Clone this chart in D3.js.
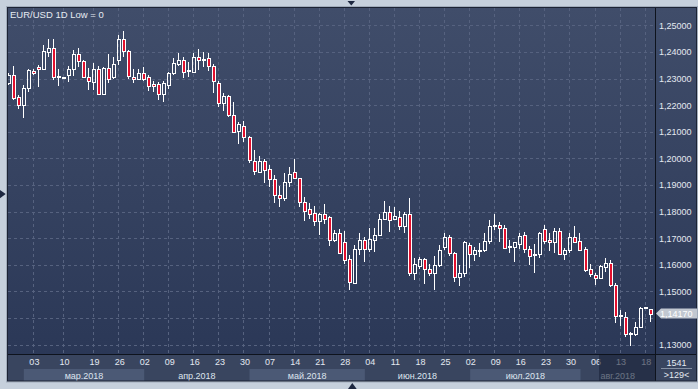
<!DOCTYPE html>
<html>
<head>
<meta charset="utf-8">
<script src="https://cdnjs.cloudflare.com/ajax/libs/d3/7.8.5/d3.min.js"></script>
<style>
body{margin:0;background:#c6d0dc;overflow:hidden}
text{font-family:"Liberation Sans",Arial,sans-serif}
</style>
</head>
<body>
<div id="chartDiv"></div>
<script>
//---EUR/USD daily bars---
var Opens=[1.2284,1.2313,1.2229,1.2199,1.2263,1.2329,1.2344,1.2337,1.2401,1.2413,
1.2309,1.2305,1.2312,1.2335,1.2392,1.2367,1.2304,1.2287,1.2335,1.2241,
1.2340,1.2304,1.2370,1.2447,1.2402,1.2307,1.2298,1.2320,1.2304,1.2278,
1.2278,1.2241,1.2274,1.2320,1.2354,1.2370,1.2328,1.2326,1.2380,1.2370,
1.2376,1.2346,1.2283,1.2207,1.2234,1.2162,1.2104,1.2121,1.2079,1.1991,
1.1950,1.1989,1.1959,1.1921,1.1862,1.1850,1.1912,1.1948,1.1925,1.1838,
1.1809,1.1793,1.1765,1.1790,1.1780,1.1693,1.1718,1.1684,1.1621,1.1532,
1.1661,1.1693,1.1658,1.1695,1.1714,1.1772,1.1797,1.1771,1.1780,1.1745,
1.1790,1.1568,1.1595,1.1621,1.1586,1.1571,1.1601,1.1668,1.1703,1.1646,
1.1553,1.1568,1.1673,1.1639,1.1653,1.1655,1.1689,1.1747,1.1749,1.1740,
1.1670,1.1668,1.1680,1.1711,1.1658,1.1639,1.1639,1.1734,1.1693,1.1684,
1.1727,1.1639,1.1655,1.1703,1.1689,1.1658,1.1583,1.1561,1.1549,1.1592,
1.1607,1.1526,1.1409,1.1405,1.1342,1.1342,1.1367,1.1441,1.1436]
var Highs=[1.2321,1.2347,1.2238,1.2276,1.2335,1.2335,1.2351,1.2426,1.2448,1.2448,
1.2335,1.2306,1.2347,1.2407,1.2413,1.2369,1.2338,1.2357,1.2347,1.2344,
1.2391,1.2382,1.2464,1.2479,1.2407,1.2335,1.2335,1.2344,1.2313,1.2291,
1.2288,1.2291,1.2326,1.2378,1.2395,1.2382,1.2363,1.2395,1.2412,1.2401,
1.2396,1.2354,1.2289,1.2244,1.2238,1.2212,1.2137,1.2140,1.2084,1.2031,
1.2009,1.1996,1.1977,1.1937,1.1896,1.1944,1.1968,1.1997,1.1928,1.1855,
1.1832,1.1821,1.1795,1.1828,1.1783,1.1730,1.1733,1.1728,1.1636,1.1674,
1.1720,1.1705,1.1740,1.1737,1.1790,1.1839,1.1822,1.1818,1.1803,1.1797,
1.1850,1.1624,1.1630,1.1624,1.1603,1.1633,1.1674,1.1718,1.1711,1.1649,
1.1598,1.1690,1.1683,1.1668,1.1683,1.1718,1.1768,1.1790,1.1761,1.1749,
1.1693,1.1686,1.1720,1.1724,1.1670,1.1677,1.1724,1.1749,1.1718,1.1740,
1.1739,1.1665,1.1718,1.1745,1.1718,1.1668,1.1605,1.1568,1.1598,1.1624,
1.1618,1.1530,1.1430,1.1423,1.1349,1.1387,1.1440,1.1442,1.1436]
var Lows=[1.2276,1.2219,1.2184,1.2153,1.2250,1.2313,1.2269,1.2332,1.2382,1.2294,
1.2273,1.2303,1.2288,1.2309,1.2344,1.2301,1.2257,1.2257,1.2238,1.2238,
1.2282,1.2299,1.2351,1.2382,1.2297,1.2282,1.2294,1.2292,1.2253,1.2250,
1.2219,1.2213,1.2259,1.2312,1.2347,1.2301,1.2304,1.2323,1.2332,1.2342,
1.2330,1.2247,1.2194,1.2179,1.2156,1.2094,1.2053,1.2062,1.1981,1.1937,
1.1946,1.1908,1.1893,1.1833,1.1818,1.1841,1.1893,1.1923,1.1818,1.1764,
1.1772,1.1745,1.1711,1.1755,1.1670,1.1686,1.1643,1.1605,1.1505,1.1530,
1.1636,1.1611,1.1649,1.1649,1.1711,1.1768,1.1724,1.1768,1.1730,1.1720,
1.1558,1.1543,1.1586,1.1527,1.1558,1.1507,1.1592,1.1655,1.1633,1.1536,
1.1520,1.1555,1.1590,1.1615,1.1628,1.1648,1.1678,1.1730,1.1686,1.1658,
1.1645,1.1611,1.1658,1.1645,1.1598,1.1570,1.1624,1.1680,1.1653,1.1645,
1.1636,1.1618,1.1645,1.1683,1.1651,1.1574,1.1555,1.1524,1.1545,1.1574,
1.1517,1.1382,1.1369,1.1330,1.1296,1.1332,1.1362,1.1440,1.1385]
var Closes=[1.2313,1.2228,1.2199,1.2263,1.2332,1.2319,1.2337,1.2402,1.2413,1.2306,
1.2307,1.2304,1.2335,1.2392,1.2367,1.2307,1.2289,1.2335,1.2241,1.2338,
1.2299,1.2354,1.2447,1.2402,1.2309,1.2299,1.2320,1.2299,1.2272,1.2271,
1.2241,1.2284,1.2320,1.2357,1.2370,1.2326,1.2331,1.2380,1.2370,1.2374,
1.2346,1.2289,1.2207,1.2234,1.2162,1.2100,1.2131,1.2079,1.1994,1.1952,
1.1991,1.1956,1.1921,1.1861,1.1851,1.1913,1.1940,1.1925,1.1838,1.1803,
1.1792,1.1765,1.1790,1.1774,1.1695,1.1720,1.1645,1.1620,1.1536,1.1661,
1.1693,1.1658,1.1696,1.1714,1.1772,1.1797,1.1768,1.1783,1.1745,1.1790,
1.1568,1.1605,1.1621,1.1586,1.1571,1.1601,1.1655,1.1705,1.1646,1.1553,
1.1568,1.1684,1.1639,1.1655,1.1655,1.1689,1.1745,1.1749,1.1740,1.1665,
1.1668,1.1684,1.1709,1.1658,1.1634,1.1640,1.1718,1.1690,1.1684,1.1727,
1.1639,1.1655,1.1703,1.1686,1.1655,1.1580,1.1564,1.1549,1.1595,1.1607,
1.1524,1.1408,1.1411,1.1342,1.1343,1.1368,1.1437,1.1442,1.1417]

//---calendar: weekdays from first bar plus the odd saturday bars---
var FirstBar="2018-02-26"
var SaturdayBars=["2018-03-03","2018-03-10","2018-08-18"]
var TickDates=["2018-03-03","2018-03-10","2018-03-19","2018-03-26","2018-04-02","2018-04-09",
"2018-04-16","2018-04-23","2018-04-30","2018-05-07","2018-05-14","2018-05-21","2018-05-28",
"2018-06-04","2018-06-11","2018-06-18","2018-06-25","2018-07-02","2018-07-09","2018-07-16",
"2018-07-23","2018-07-30","2018-08-06","2018-08-13","2018-08-18"]
var PriceTicks=[1.13,1.14,1.15,1.16,1.17,1.18,1.19,1.20,1.21,1.22,1.23,1.24,1.25]
var MonthNames=["янв","фев","мар","апр","май","июн","июл","авг","сен","окт","ноя","дек"]
var LastPrice=1.1417
var Title="EUR/USD 1D Low = 0"
var BarTotal="1541"
var BarVisible=">129<"

var W=698,H=389
var PlotL=8,PlotR=655,PlotT=8,PlotB=354,AxisB=381
var RedBody="#e2102e"

var parseDay=d3.timeParse("%Y-%m-%d")
var fmtDay=d3.timeFormat("%Y-%m-%d")
var Dates=[]
var day=parseDay(FirstBar)
while(Dates.length<Closes.length)
{
    var key=fmtDay(day)
    var wd=day.getDay()
    if((wd>0&&wd<6)||SaturdayBars.indexOf(key)>-1) Dates.push(key)
    day=d3.timeDay.offset(day,1)
}
var Bars=Dates.map(function(d,i){return {date:d,o:Opens[i],h:Highs[i],l:Lows[i],c:Closes[i]}})

var X=d3.scalePoint().domain(Dates).range([8.8,650.7])
var Y=d3.scaleLinear().domain([1.13,1.25]).range([344.7,25.3])
var fmtPrice=function(v){return d3.format(".5f")(v).replace(".",",")}

var Svg=d3.select("#chartDiv").append("svg")
    .attr("width",W).attr("height",H)
    .attr("viewBox","0 0 "+W+" "+H)

var defs=Svg.append("defs")
var grad=defs.append("linearGradient")
    .attr("id","plotGrad")
    .attr("x1","0").attr("y1","0").attr("x2","0").attr("y2","1")
grad.append("stop").attr("offset","0").attr("stop-color","#404d6a")
grad.append("stop").attr("offset","1").attr("stop-color","#2b3857")
defs.append("clipPath").attr("id","plotClip")
    .append("rect")
    .attr("x",PlotL).attr("y",PlotT)
    .attr("width",PlotR-PlotL).attr("height",PlotB-PlotT)

//---backgrounds---
Svg.append("rect")
    .attr("x",PlotL).attr("y",PlotT)
    .attr("width",W-1-PlotL).attr("height",PlotB-PlotT)
    .attr("fill","url(#plotGrad)")
Svg.append("rect")
    .attr("x",PlotL).attr("y",PlotB)
    .attr("width",W-1-PlotL).attr("height",AxisB-PlotB)
    .attr("fill","#39455f")

//---month bands---
var months=[]
Dates.forEach(function(d){
    var m=d.slice(0,7)
    if(!months.length||months[months.length-1].key!=m) months.push({key:m,first:d})
})
months.forEach(function(m,i){
    m.x0=i==0?PlotL:X(m.first)
    m.x1=i<months.length-1?X(months[i+1].first):PlotR
    var dt=parseDay(m.first)
    m.light=dt.getMonth()%2==0
    m.label=MonthNames[dt.getMonth()]+"."+dt.getFullYear()
})
var bandG=Svg.append("g")
bandG.selectAll("rect").data(months).enter().append("rect")
    .attr("x",function(d){return d.x0})
    .attr("y",369)
    .attr("width",function(d){return d.x1-d.x0})
    .attr("height",AxisB-369)
    .attr("fill",function(d){return d.light?"#4b5975":"none"})
bandG.selectAll("text").data(months.filter(function(d){return d.x1-d.x0>50})).enter().append("text")
    .attr("x",function(d){return (d.x0+d.x1)/2})
    .attr("y",378.5)
    .attr("text-anchor","middle")
    .attr("font-size","9px")
    .attr("fill","#dde4ee")
    .text(function(d){return d.label})

//---grid---
var gridG=Svg.append("g")
    .attr("stroke","#56627f")
    .attr("stroke-width",1)
    .attr("stroke-dasharray","3,3")
    .attr("shape-rendering","crispEdges")
gridG.selectAll(".hgrid").data(PriceTicks).enter().append("line")
    .attr("class","hgrid")
    .attr("x1",PlotL).attr("x2",PlotR)
    .attr("y1",function(d){return Math.round(Y(d))+.5})
    .attr("y2",function(d){return Math.round(Y(d))+.5})
gridG.selectAll(".vgrid").data(TickDates).enter().append("line")
    .attr("class","vgrid")
    .attr("y1",PlotT).attr("y2",PlotB)
    .attr("x1",function(d){return Math.round(X(d))-.5})
    .attr("x2",function(d){return Math.round(X(d))-.5})

//---candles---
var candleG=Svg.append("g")
    .attr("clip-path","url(#plotClip)")
    .attr("shape-rendering","crispEdges")
candleG.selectAll("g").data(Bars).enter().append("g")
    .each(function(d){
        var g=d3.select(this)
        var cx=Math.round(X(d.date))
        var top=Math.round(Y(Math.max(d.o,d.c)))+.5
        var bot=Math.round(Y(Math.min(d.o,d.c)))+.5
        if(bot-top<1) bot=top+1
        var hi=Math.round(Y(d.h)),lo=Math.round(Y(d.l))
        if(hi<top) g.append("line") //---upper wick---
            .attr("x1",cx-.5).attr("x2",cx-.5)
            .attr("y1",hi).attr("y2",top)
            .attr("stroke","#fff")
        if(lo>bot) g.append("line") //---lower wick---
            .attr("x1",cx-.5).attr("x2",cx-.5)
            .attr("y1",bot).attr("y2",lo)
            .attr("stroke","#fff")
        g.append("rect")
            .attr("x",cx-1.5).attr("y",top)
            .attr("width",3).attr("height",bot-top)
            .attr("fill",d.c<d.o?RedBody:"none")
            .attr("stroke","#fff")
            .attr("stroke-width",1)
    })

//---axes (tick label under the last price box stays hidden)---
var ly=Y(LastPrice)
var shownTicks=PriceTicks.filter(function(t){return Math.abs(Y(t)-ly)>9})
var yAxis=d3.axisRight(Y).tickValues(shownTicks).tickSize(0).tickPadding(4).tickFormat(fmtPrice)
Svg.append("g")
    .attr("transform","translate("+PlotR+",0)")
    .call(yAxis)
    .call(function(g){g.select(".domain").remove()})
    .selectAll("text")
    .attr("fill","#e4e9f1")
    .attr("font-size","9px")
    .attr("font-family","Liberation Sans, Arial, sans-serif")

var xAxis=d3.axisBottom(X).tickValues(TickDates).tickSize(0).tickPadding(5)
    .tickFormat(function(d){return d3.timeFormat("%d")(parseDay(d))})
Svg.append("g")
    .attr("transform","translate(0,"+PlotB+")")
    .call(xAxis)
    .call(function(g){g.select(".domain").remove()})
    .selectAll("text")
    .attr("fill","#e4e9f1")
    .attr("font-size","9px")
    .attr("font-family","Liberation Sans, Arial, sans-serif")

//---dim overlay on the last dates---
Svg.append("rect")
    .attr("x",599).attr("y",PlotB+1)
    .attr("width",PlotR-599).attr("height",AxisB-PlotB-1)
    .attr("fill","#1b2338")
    .attr("fill-opacity",.6)

//---frame lines---
Svg.append("line")
    .attr("x1",PlotR+.5).attr("x2",PlotR+.5)
    .attr("y1",PlotT).attr("y2",AxisB)
    .attr("stroke","#0e131d")
Svg.append("line")
    .attr("x1",PlotL).attr("x2",W-1)
    .attr("y1",PlotB+.5).attr("y2",PlotB+.5)
    .attr("stroke","#0e131d")
Svg.append("rect")
    .attr("x",6.5).attr("y",6.5)
    .attr("width",W-7).attr("height",AxisB-5.5)
    .attr("fill","none")
    .attr("stroke","#a1acbb")
Svg.append("rect")
    .attr("x",7.5).attr("y",7.5)
    .attr("width",W-9).attr("height",AxisB-7.5)
    .attr("fill","none")
    .attr("stroke","#1c2334")

//---title---
Svg.append("text")
    .attr("x",10).attr("y",18)
    .attr("font-size","9.5px")
    .attr("fill","#e6ebf2")
    .text(Title)

//---last price marker---
Svg.append("path")
    .attr("d","M"+(PlotR+1)+","+ly+"L"+(PlotR+6)+","+(ly-5)+"L"+(W-1)+","+(ly-5)+"L"+(W-1)+","+(ly+5)+"L"+(PlotR+6)+","+(ly+5)+"Z")
    .attr("fill","#c2c8d1")
Svg.append("text")
    .attr("x",PlotR+5).attr("y",ly+3.3)
    .attr("font-size","9px")
    .attr("fill","#ffffff")
    .text(fmtPrice(LastPrice))

//---bar counters---
Svg.append("text")
    .attr("x",676.5).attr("y",365.5)
    .attr("text-anchor","middle")
    .attr("font-size","9px")
    .attr("fill","#e4e9f1")
    .text(BarTotal)
Svg.append("line")
    .attr("x1",661).attr("x2",692)
    .attr("y1",368.5).attr("y2",368.5)
    .attr("stroke","#8590a3")
Svg.append("text")
    .attr("x",676.5).attr("y",378)
    .attr("text-anchor","middle")
    .attr("font-size","9px")
    .attr("fill","#e4e9f1")
    .text(BarVisible)

//---scroll markers---
Svg.append("path").attr("d","M347.5,1L355,1L351.3,5.5Z").attr("fill","#1d2740")
Svg.append("path").attr("d","M348,389L356.7,389L352.3,383Z").attr("fill","#1d2740")
Svg.append("path").attr("d","M0,190L5.7,194L0,198.3Z").attr("fill","#1d2740")
</script>
</body>
</html>
